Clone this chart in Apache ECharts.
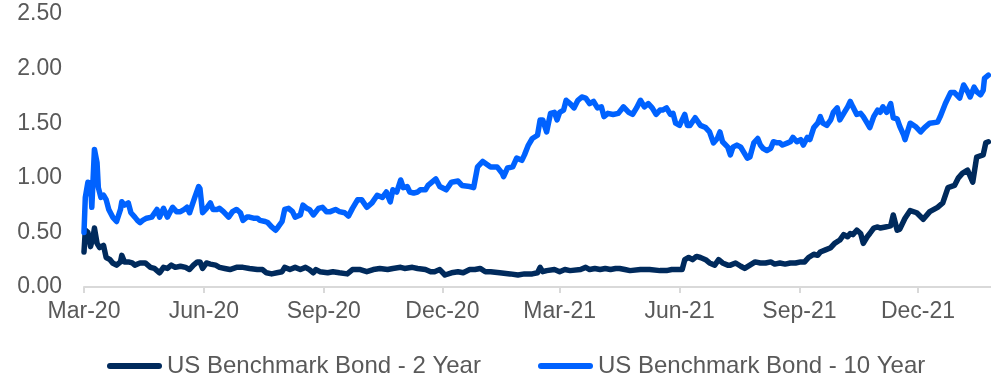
<!DOCTYPE html>
<html>
<head>
<meta charset="utf-8">
<script src="https://cdn.jsdelivr.net/npm/echarts@6/dist/echarts.min.js"></script>
<style>
html,body{margin:0;padding:0;background:#fff;}
#chart{width:991px;height:377px;}
</style>
</head>
<body>
<div id="chart"></div>
<script>
// ---- data ----
const startDate = '2020-03-09';
const axisEndDay = 696;
const tickDates = ['2020-03-09','2020-06-09','2020-09-09','2020-12-09','2021-03-09','2021-06-09','2021-09-09','2021-12-09'];
const tickLabels = ['Mar-20','Jun-20','Sep-20','Dec-20','Mar-21','Jun-21','Sep-21','Dec-21'];
const seriesNames = ['US Benchmark Bond - 2 Year','US Benchmark Bond - 10 Year'];

// days since startDate
const days2y = [0,1,3,5,7,8,10,12,15,17,20,22,25,28,29,31,34,37,39,43,47,51,54,58,61,64,67,70,74,78,81,84,87,89,91,94,97,101,104,108,112,117,122,127,133,137,140,144,148,152,154,158,162,166,170,173,176,178,181,187,191,196,202,206,212,217,222,227,233,237,243,246,252,256,262,266,269,273,277,282,287,291,296,300,304,308,312,319,327,333,338,344,348,350,352,355,361,365,369,373,381,385,388,392,396,400,404,408,411,415,419,427,434,442,447,451,455,459,461,464,467,470,473,477,480,484,487,490,494,496,500,504,507,511,515,519,523,527,530,534,538,542,546,550,553,556,560,563,565,569,573,576,580,583,586,588,590,593,596,598,601,603,606,609,611,615,619,621,624,626,630,634,639,644,649,655,659,663,668,671,674,678,682,685,690,692,694];
const yield2y = [0.32,0.52,0.50,0.37,0.46,0.54,0.40,0.36,0.38,0.27,0.25,0.22,0.20,0.23,0.29,0.23,0.23,0.22,0.20,0.22,0.22,0.18,0.17,0.13,0.18,0.17,0.20,0.18,0.19,0.18,0.16,0.20,0.23,0.23,0.17,0.22,0.21,0.20,0.18,0.17,0.16,0.18,0.18,0.17,0.16,0.16,0.13,0.12,0.13,0.14,0.18,0.16,0.18,0.16,0.18,0.16,0.13,0.16,0.14,0.13,0.14,0.13,0.12,0.16,0.16,0.14,0.16,0.17,0.16,0.17,0.18,0.17,0.18,0.17,0.16,0.14,0.14,0.16,0.11,0.13,0.14,0.13,0.16,0.16,0.17,0.14,0.14,0.13,0.12,0.11,0.12,0.12,0.13,0.18,0.14,0.15,0.16,0.14,0.16,0.15,0.16,0.18,0.16,0.17,0.16,0.17,0.16,0.17,0.17,0.16,0.15,0.16,0.16,0.15,0.15,0.16,0.16,0.16,0.25,0.27,0.25,0.28,0.27,0.25,0.22,0.20,0.25,0.22,0.20,0.20,0.22,0.19,0.17,0.20,0.23,0.22,0.22,0.23,0.21,0.22,0.21,0.22,0.22,0.23,0.23,0.27,0.30,0.29,0.32,0.34,0.36,0.40,0.43,0.48,0.46,0.49,0.48,0.52,0.49,0.40,0.46,0.49,0.54,0.55,0.54,0.55,0.56,0.66,0.52,0.53,0.63,0.70,0.68,0.62,0.69,0.73,0.77,0.91,0.93,1.00,1.04,1.07,0.96,1.19,1.21,1.32,1.33];

const days10y = [0,1,3,5,6,8,10,11,13,15,17,19,22,25,28,29,31,34,36,39,41,43,45,48,52,56,58,61,64,68,71,74,77,79,81,85,88,89,91,94,97,99,102,104,107,111,114,117,120,122,125,127,130,133,135,139,141,144,147,149,152,154,157,160,162,166,168,171,173,176,180,183,186,189,193,196,200,203,206,210,213,217,221,225,229,232,235,237,240,243,245,248,250,253,256,258,262,264,267,270,273,278,282,287,290,296,299,302,306,312,317,321,322,325,329,332,336,338,341,344,348,350,352,355,358,361,363,365,368,370,373,376,379,382,385,388,391,394,397,399,402,406,410,414,418,421,424,427,430,433,436,439,442,444,447,450,452,454,457,461,463,465,469,473,477,480,483,486,488,490,494,496,498,501,504,506,509,511,514,517,519,521,524,527,529,532,534,536,540,542,544,547,550,552,555,557,560,563,565,567,570,573,575,578,580,583,586,588,590,593,596,598,601,603,606,609,611,613,616,619,621,624,626,629,630,634,638,642,645,649,655,657,661,665,668,672,675,678,680,683,685,688,690,691,694];
const yield10y = [0.50,0.82,0.96,0.95,0.73,1.26,1.14,0.91,0.82,0.84,0.80,0.71,0.64,0.60,0.71,0.78,0.75,0.77,0.68,0.64,0.61,0.59,0.61,0.63,0.64,0.71,0.64,0.72,0.64,0.73,0.69,0.69,0.71,0.73,0.68,0.82,0.92,0.90,0.68,0.72,0.77,0.71,0.71,0.72,0.69,0.64,0.69,0.71,0.68,0.61,0.64,0.64,0.63,0.63,0.61,0.60,0.59,0.55,0.52,0.55,0.60,0.71,0.72,0.69,0.64,0.66,0.75,0.72,0.71,0.66,0.72,0.73,0.69,0.69,0.71,0.69,0.68,0.65,0.72,0.80,0.80,0.73,0.77,0.84,0.82,0.87,0.78,0.89,0.87,0.98,0.91,0.92,0.87,0.86,0.87,0.89,0.89,0.93,0.96,0.99,0.92,0.89,0.96,0.97,0.93,0.92,0.91,1.10,1.15,1.10,1.10,1.04,1.01,1.09,1.10,1.18,1.16,1.21,1.30,1.36,1.39,1.53,1.53,1.42,1.59,1.60,1.53,1.60,1.62,1.71,1.68,1.64,1.71,1.74,1.73,1.68,1.70,1.64,1.65,1.56,1.59,1.58,1.59,1.65,1.60,1.58,1.64,1.71,1.65,1.68,1.64,1.58,1.62,1.62,1.64,1.58,1.59,1.50,1.48,1.58,1.48,1.48,1.55,1.48,1.46,1.42,1.32,1.36,1.42,1.33,1.28,1.21,1.28,1.30,1.28,1.24,1.18,1.19,1.32,1.36,1.30,1.27,1.25,1.27,1.33,1.32,1.32,1.30,1.32,1.33,1.37,1.33,1.35,1.30,1.37,1.35,1.46,1.50,1.56,1.50,1.48,1.53,1.60,1.64,1.53,1.59,1.65,1.70,1.65,1.58,1.59,1.56,1.50,1.46,1.56,1.62,1.60,1.65,1.60,1.68,1.55,1.54,1.47,1.39,1.35,1.50,1.47,1.42,1.46,1.50,1.51,1.56,1.68,1.78,1.78,1.73,1.85,1.79,1.74,1.83,1.79,1.76,1.80,1.91,1.94];

const yMin = 0, yMax = 2.5, yStep = 0.5;

// ---- build ----
const DAY = 86400000;
function parseDate(s){ const p = s.split('-').map(Number); return Date.UTC(p[0], p[1]-1, p[2]); }
const t0 = parseDate(startDate);
const tickDays = tickDates.map(s => Math.round((parseDate(s) - t0) / DAY));
const toPairs = (days, vals) => days.map((d,i) => [d, vals[i]]);

const font = 'Liberation Sans, Arial, sans-serif';
const txt = '#595959';
const colors = ['#002A5C', '#0062FF'];
const legendIcon = 'path://M3,0 L52,0 A3,3 0 0 1 52,6 L3,6 A3,3 0 0 1 3,0 Z';

const chart = echarts.init(document.getElementById('chart'), null, {renderer:'canvas'});
chart.setOption({
  animation: false,
  backgroundColor: '#ffffff',
  grid: { left: 84, right: 0, top: 14, bottom: 90, outerBoundsMode: 'none', containLabel: false },
  legend: [
    { data: [{name: seriesNames[0], icon: legendIcon}], left: 102, top: 349, itemWidth: 55, itemHeight: 6,
      textStyle: { color: txt, fontSize: 24, fontFamily: font }, selectedMode: false },
    { data: [{name: seriesNames[1], icon: legendIcon}], left: 533, top: 349, itemWidth: 55, itemHeight: 6,
      textStyle: { color: txt, fontSize: 24, fontFamily: font }, selectedMode: false }
  ],
  xAxis: {
    type: 'value',
    min: 0,
    max: axisEndDay,
    axisLine: { show: true, lineStyle: { color: '#D9D9D9', width: 2 } },
    axisTick: { show: true, length: 6, lineStyle: { color: '#D9D9D9', width: 2 }, customValues: tickDays },
    axisLabel: {
      customValues: tickDays,
      margin: 13,
      color: txt, fontSize: 23, fontFamily: font,
      formatter: function (v) {
        const i = tickDays.indexOf(Math.round(v));
        return i >= 0 ? tickLabels[i] : '';
      }
    },
    splitLine: { show: false }
  },
  yAxis: {
    type: 'value',
    min: yMin, max: yMax, interval: yStep,
    axisLine: { show: false },
    axisTick: { show: false },
    splitLine: { show: false },
    axisLabel: { margin: 22, color: txt, fontSize: 23, fontFamily: font, formatter: v => v.toFixed(2) }
  },
  series: [
    { name: seriesNames[0], type: 'line', data: toPairs(days2y, yield2y), showSymbol: false, symbol: 'none',
      lineStyle: { width: 5.5, color: colors[0], cap: 'round', join: 'round' }, itemStyle: { color: colors[0] } },
    { name: seriesNames[1], type: 'line', data: toPairs(days10y, yield10y), showSymbol: false, symbol: 'none',
      lineStyle: { width: 5.5, color: colors[1], cap: 'round', join: 'round' }, itemStyle: { color: colors[1] } }
  ]
});
</script>
</body>
</html>
